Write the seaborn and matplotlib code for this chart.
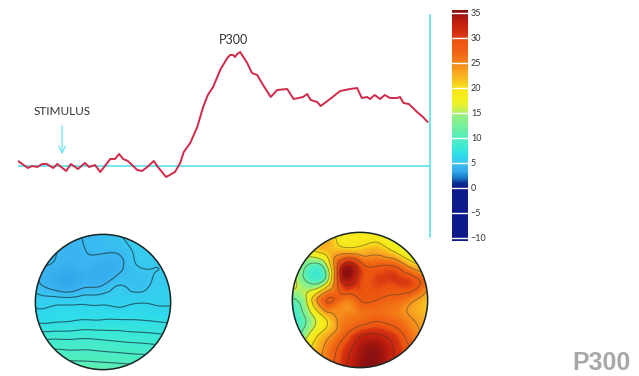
import numpy as np
import seaborn as sns
import matplotlib.pyplot as plt
import matplotlib.tri as mtri
from matplotlib.colors import LinearSegmentedColormap, Normalize
from matplotlib.cm import ScalarMappable
from matplotlib.patches import Circle

# ERP waveform: time after stimulus (ms) and amplitude (uV)
time_ms = [-75, -58, -51, -42, -34, -26, -15, -8, 7, 15, 27, 39, 46, 56, 65, 82,
           90, 97, 104, 112, 128, 136, 145, 156, 163, 177, 192, 201, 207, 218, 230,
           240, 248, 257, 269, 281, 286, 291, 294, 298, 303, 315, 323, 332, 342,
           355, 366, 383, 394, 410, 417, 423, 434, 440, 456, 473, 490, 502, 510,
           519, 524, 532, 541, 549, 558, 570, 575, 581, 590, 604, 614, 622]
amplitude_uv = [0.5, -0.2, 0.0, -0.1, 0.2, 0.2, -0.2, 0.2, -0.5, 0.2, -0.3, 0.3, -0.1,
                0.1, -0.6, 0.7, 0.7, 1.2, 0.7, 0.5, -0.4, -0.5, -0.1, 0.5, -0.1, -1.1,
                -0.6, 0.3, 1.4, 2.3, 3.9, 5.9, 7.1, 7.9, 9.6, 10.8, 11.1, 11.1, 10.9,
                11.2, 11.4, 10.3, 9.3, 9.1, 8.1, 6.9, 7.6, 7.7, 6.7, 6.9, 7.2, 6.6,
                6.4, 6.0, 6.7, 7.5, 7.7, 7.8, 6.8, 6.9, 6.7, 7.1, 6.7, 7.1, 6.8, 6.8,
                6.9, 6.3, 6.2, 5.4, 4.9, 4.4]

# scalp maps on a 9x9 grid, rows from front (top) to back (bottom)
grid_pos = [-1.0, -0.75, -0.5, -0.25, 0.0, 0.25, 0.5, 0.75, 1.0]
topo_before = [
    [4.9, 4.9, 4.5, 4.3, 4.5, 5.1, 5.5, 5.5, 5.5],
    [4.9, 4.5, 4.0, 4.3, 4.4, 4.5, 5.3, 5.5, 5.5],
    [4.5, 4.1, 3.8, 4.0, 3.7, 4.1, 5.0, 5.1, 5.3],
    [4.7, 3.9, 3.5, 4.1, 4.3, 5.1, 4.7, 5.3, 5.5],
    [5.7, 5.7, 5.7, 5.8, 5.8, 5.8, 5.9, 5.9, 5.9],
    [6.6, 6.6, 6.7, 6.8, 6.8, 6.8, 6.8, 6.7, 6.6],
    [8.2, 8.2, 8.2, 8.3, 8.2, 8.1, 8.0, 7.9, 7.8],
    [9.7, 9.7, 9.6, 9.6, 9.5, 9.4, 9.3, 9.2, 9.1],
    [11.2, 11.2, 11.1, 11.0, 10.9, 10.8, 10.7, 10.6, 10.5],
]
topo_p300 = [
    [19, 19, 19, 19, 19, 18, 17, 15, 15],
    [20, 20, 22, 21, 21, 22, 19, 16, 16],
    [18, 11, 15, 33, 30, 28, 28, 23, 20],
    [18, 12, 16, 32, 30, 30, 30, 30, 25],
    [11, 18, 28, 26, 28, 28, 27, 25, 21],
    [8, 14, 21, 25, 26, 27, 26, 24, 22],
    [9, 16, 22, 27, 31, 32, 30, 26, 23],
    [14, 20, 25, 30, 34, 35, 32, 28, 25],
    [18, 22, 26, 31, 35, 35, 32, 28, 25],
]

cbar_ticks = [35, 30, 25, 20, 15, 10, 5, 0, -5, -10]

# colour scale (uV -> colour)
cmap_values = [-10.6, -0.2, 0.8, 2.0, 3.0, 4.0, 5.0, 6.5, 8.0, 10.0, 12.0, 14.5, 16.0,
               17.5, 20.0, 21.5, 23.5, 25.5, 27.0, 29.5, 30.5, 33.0, 35.5]
cmap_colors = ['#0e1a8a', '#0c1a8c', '#0a2a90', '#1878c8', '#2ea4e8', '#3ab2f0',
               '#38c6f0', '#2edcec', '#3ce8d6', '#50eec0', '#70f0a0', '#98f080',
               '#d8f040', '#f4f020', '#f8e418', '#f8c020', '#f8a020', '#f47c18',
               '#f06414', '#ec5410', '#d83412', '#c4200e', '#8a1010']

vmin, vmax = cmap_values[0], cmap_values[-1]
norm = Normalize(vmin, vmax)
cmap = LinearSegmentedColormap.from_list(
    'erp', [((v - vmin) / (vmax - vmin), c) for v, c in zip(cmap_values, cmap_colors)])

sns.set_theme(style='white')
plt.rcParams['font.family'] = ['Lato', 'DejaVu Sans']

W, H = 639, 376
fig = plt.figure(figsize=(W / 100, H / 100), dpi=100)


def px_axes(x0, y0, x1, y1):
    return fig.add_axes([x0 / W, 1 - y1 / H, (x1 - x0) / W, (y1 - y0) / H])


wave_color = '#cf2a4a'
cyan = '#66e4ee'

# waveform
ax = px_axes(18, 15, 430, 237)
sns.lineplot(x=time_ms, y=amplitude_uv, ax=ax, color=wave_color, lw=1.4)
ax.set_xlim(-75, 626)
ax.set_ylim(-7.1, 15.1)
ax.axhline(0, color=cyan, lw=1.3, zorder=0)
ax.axvline(626, color=cyan, lw=1.3, clip_on=False)
ax.axis('off')

ax.text(0, 5.1, 'STIMULUS', ha='center', va='baseline', fontsize=8.5, color='#333333')
ax.annotate('', xy=(0, 0.9), xytext=(0, 4.3),
            arrowprops=dict(arrowstyle='->', color=cyan, lw=0.9))
ax.text(292, 12.2, 'P300', ha='center', va='baseline', fontsize=9, color='#333333')


def scalp_map(ax, values, levels, line_color, line_alpha, lw):
    gx, gy = np.meshgrid(grid_pos, grid_pos[::-1])
    tri = mtri.Triangulation(gx.ravel(), gy.ravel())
    z = np.asarray(values, float).ravel()
    interp = mtri.CubicTriInterpolator(tri, z, kind='min_E')
    ftri, fz = mtri.UniformTriRefiner(tri).refine_field(z, triinterpolator=interp, subdiv=4)
    pc = ax.tripcolor(ftri, fz, shading='gouraud', cmap=cmap, norm=norm)
    pc.set_clip_path(Circle((0, 0), 1, transform=ax.transData))
    cl = ax.tricontour(ftri, fz, levels=levels, colors=line_color,
                       linewidths=lw, alpha=line_alpha)
    cl.set_clip_path(Circle((0, 0), 1, transform=ax.transData))
    ax.add_patch(Circle((0, 0), 1, fill=False, ec='#1a2626', lw=1.1))
    ax.set_xlim(-1.02, 1.02)
    ax.set_ylim(-1.02, 1.02)
    ax.set_aspect('equal')
    ax.axis('off')


scalp_map(px_axes(34, 233, 172, 371), topo_before,
          [4.3, 5.1, 6.0, 6.85, 7.7, 8.55, 9.4, 10.25], '#1c4450', 0.8, 0.8)
scalp_map(px_axes(291, 231, 429, 369), topo_p300,
          [12, 16, 20, 24, 28, 32], '#3a3a2a', 0.5, 0.7)

# colour bar
cax = px_axes(452, 10, 468, 241)
cb = fig.colorbar(ScalarMappable(norm=norm, cmap=cmap), cax=cax, ticks=cbar_ticks)
cb.outline.set_visible(False)
cax.tick_params(length=0, pad=2, labelsize=6.5, colors='#333333')
for t in cbar_ticks:
    cax.axhline(t, color='white', lw=1.0)

fig.text(601 / W, 1 - 370 / H, 'P300', ha='center', va='baseline', fontsize=18,
         weight='bold', color='#a8a8a8', family=['Liberation Sans', 'DejaVu Sans'])

fig.savefig('out.png', dpi=100)
